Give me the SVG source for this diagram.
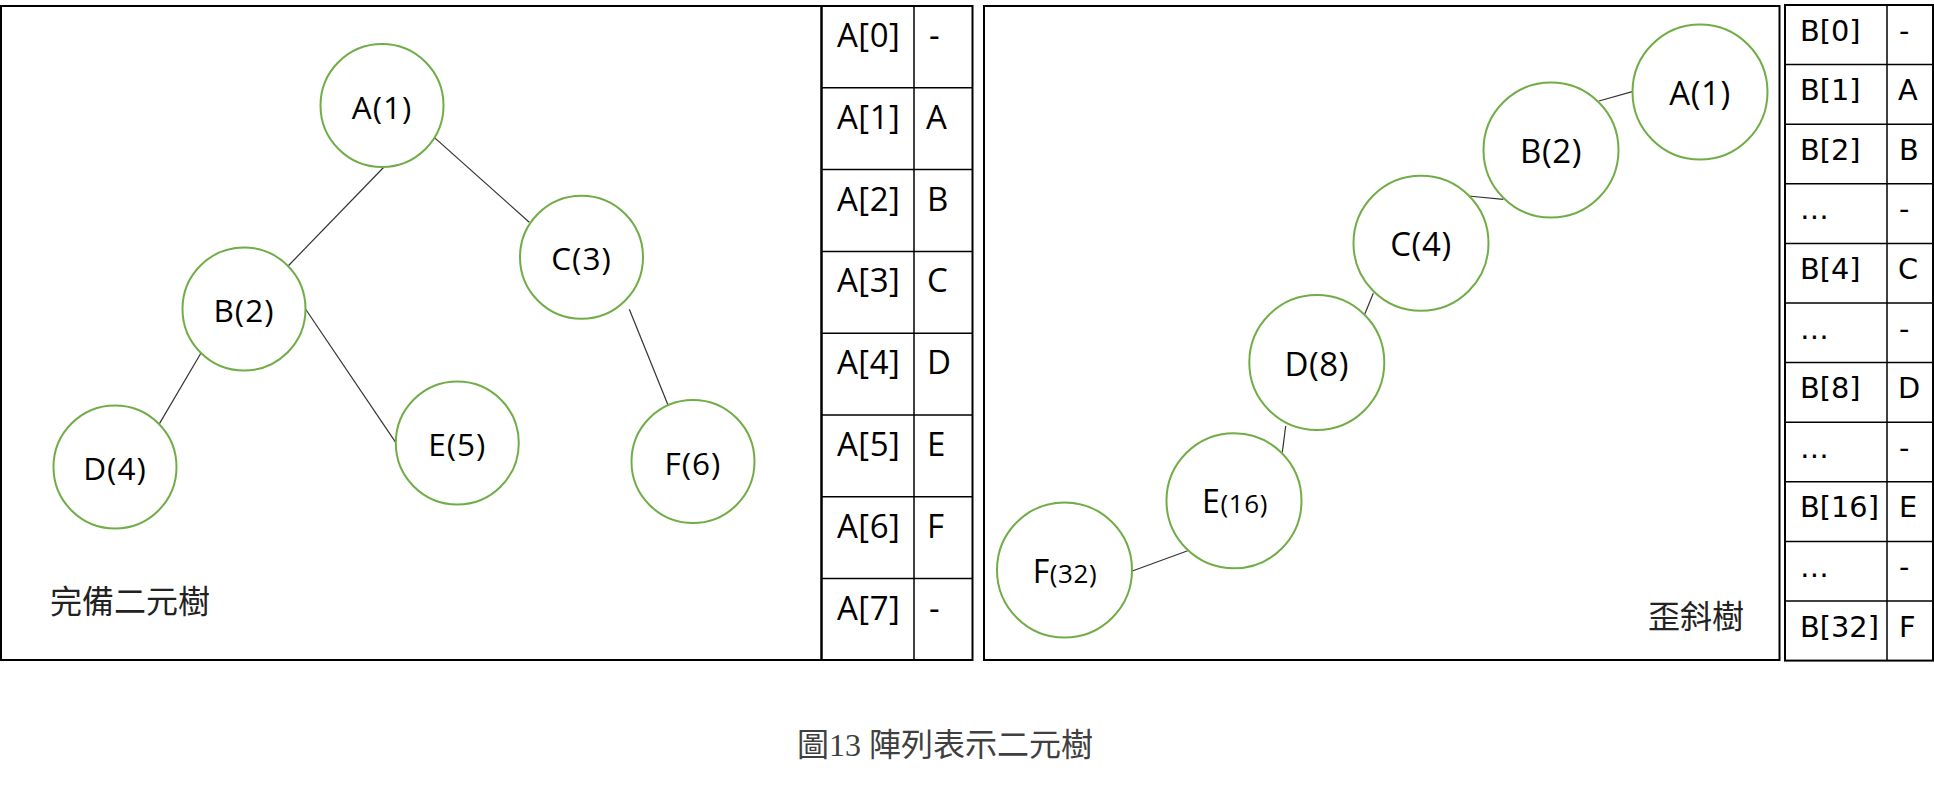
<svg xmlns="http://www.w3.org/2000/svg" width="1934" height="785" viewBox="0 0 1934 785">
<style>
.bg{fill:#fff}
.frame{fill:none;stroke:#000;stroke-width:2}
.grid{fill:none;stroke:#000;stroke-width:1.5}
.node circle{fill:#fff;stroke:#70AD47;stroke-width:2}
.edge{stroke:#333;stroke-width:1.2;fill:none}
.lblL{font-family:"Open Sans","Liberation Sans",sans-serif;font-size:31.5px;letter-spacing:1px;text-anchor:middle;fill:#000}
.lblR{font-family:"Open Sans","Liberation Sans",sans-serif;font-size:33px;letter-spacing:0.6px;text-anchor:middle;fill:#000}
.ta{font-family:"Open Sans","Liberation Sans",sans-serif;font-size:33px;letter-spacing:0.5px;fill:#000}
.tb{font-family:"DejaVu Sans","Liberation Sans",sans-serif;font-size:28.8px;fill:#000}
.cjk{font-family:"Noto Sans CJK TC","Noto Sans CJK SC",sans-serif;font-size:32px;fill:#222}
.cap{font-family:"Liberation Serif","Noto Sans CJK TC",serif;font-size:32px;fill:#404040}
</style>
<rect class="bg" x="0" y="0" width="1934" height="785"/>

<!-- frames -->
<g id="frames">
<rect class="frame" x="1" y="6" width="820.5" height="654"/>
<rect class="frame" x="984" y="6" width="795.5" height="654"/>
</g>

<!-- connectors -->
<g id="connectors">
<line class="edge" x1="383.5" y1="167.5" x2="287.6" y2="266.5"/>
<line class="edge" x1="434.5" y1="137.6" x2="529.3" y2="222.3"/>
<line class="edge" x1="201" y1="353" x2="159" y2="424.4"/>
<line class="edge" x1="305.5" y1="309" x2="397" y2="444.4"/>
<line class="edge" x1="629.3" y1="309.3" x2="668.7" y2="406.7"/>
<line class="edge" x1="1632.3" y1="91.7" x2="1599" y2="101"/>
<line class="edge" x1="1468.3" y1="196" x2="1503.3" y2="199.3"/>
<line class="edge" x1="1373.3" y1="293.3" x2="1364.7" y2="314.3"/>
<line class="edge" x1="1285.7" y1="426" x2="1282.3" y2="452.3"/>
<line class="edge" x1="1187.7" y1="550.7" x2="1132.3" y2="571"/>
</g>

<!-- complete binary tree -->
<g id="nodeL-A" class="node"><circle cx="382" cy="105.5" r="61.5"/><text class="lblL" x="382" y="118.6">A(1)</text></g>
<g id="nodeL-B" class="node"><circle cx="244" cy="309" r="61.5"/><text class="lblL" x="244" y="322.1">B(2)</text></g>
<g id="nodeL-C" class="node"><circle cx="581.5" cy="257.3" r="61.5"/><text class="lblL" x="581.5" y="270.4">C(3)</text></g>
<g id="nodeL-D" class="node"><circle cx="115" cy="467" r="61.5"/><text class="lblL" x="115" y="480.1">D(4)</text></g>
<g id="nodeL-E" class="node"><circle cx="457.3" cy="443" r="61.5"/><text class="lblL" x="457.3" y="456.1">E(5)</text></g>
<g id="nodeL-F" class="node"><circle cx="693" cy="461.5" r="61.5"/><text class="lblL" x="693" y="474.6">F(6)</text></g>
<text id="titleL" class="cjk" x="50" y="613">完備二元樹</text>

<!-- skewed tree -->
<g id="nodeR-A" class="node"><circle cx="1700" cy="92" r="67.5"/><text class="lblR" x="1700" y="105">A(1)</text></g>
<g id="nodeR-B" class="node"><circle cx="1551" cy="150" r="67.5"/><text class="lblR" x="1551" y="163">B(2)</text></g>
<g id="nodeR-C" class="node"><circle cx="1421" cy="243.3" r="67.5"/><text class="lblR" x="1421" y="256.3">C(4)</text></g>
<g id="nodeR-D" class="node"><circle cx="1316.8" cy="362.5" r="67.5"/><text class="lblR" x="1316.8" y="375.5">D(8)</text></g>
<g id="nodeR-E" class="node"><circle cx="1234" cy="500.8" r="67.5"/><text class="lblR" x="1235" y="513"><tspan font-size="32px">E</tspan><tspan font-size="26px">(16)</tspan></text></g>
<g id="nodeR-F" class="node"><circle cx="1064.5" cy="570" r="67.5"/><text class="lblR" x="1065" y="582.7"><tspan font-size="32px">F</tspan><tspan font-size="26px">(32)</tspan></text></g>
<text id="titleR" class="cjk" x="1648" y="628">歪斜樹</text>

<!-- array A -->
<g id="tableA">
<rect class="frame" x="821.5" y="6" width="151" height="654"/>
<line class="grid" x1="914" y1="6" x2="914" y2="660"/>
<line class="grid" x1="821.5" y1="87.8" x2="972.5" y2="87.8"/>
<line class="grid" x1="821.5" y1="169.6" x2="972.5" y2="169.6"/>
<line class="grid" x1="821.5" y1="251.4" x2="972.5" y2="251.4"/>
<line class="grid" x1="821.5" y1="333.2" x2="972.5" y2="333.2"/>
<line class="grid" x1="821.5" y1="415" x2="972.5" y2="415"/>
<line class="grid" x1="821.5" y1="496.8" x2="972.5" y2="496.8"/>
<line class="grid" x1="821.5" y1="578.6" x2="972.5" y2="578.6"/>
<text class="ta" x="837" y="47">A[0]</text><text class="ta" x="929" y="47">-</text>
<text class="ta" x="837" y="128.8">A[1]</text><text class="ta" x="926" y="128.8">A</text>
<text class="ta" x="837" y="210.6">A[2]</text><text class="ta" x="927" y="210.6">B</text>
<text class="ta" x="837" y="292.4">A[3]</text><text class="ta" x="927" y="292.4">C</text>
<text class="ta" x="837" y="374.2">A[4]</text><text class="ta" x="927" y="374.2">D</text>
<text class="ta" x="837" y="456">A[5]</text><text class="ta" x="927" y="456">E</text>
<text class="ta" x="837" y="537.8">A[6]</text><text class="ta" x="927" y="537.8">F</text>
<text class="ta" x="837" y="619.6">A[7]</text><text class="ta" x="929" y="619.6">-</text>
</g>

<!-- array B -->
<g id="tableB">
<rect class="frame" x="1785" y="5" width="148" height="655.6"/>
<line class="grid" x1="1887" y1="5" x2="1887" y2="660.6"/>
<line class="grid" x1="1785" y1="64.6" x2="1933" y2="64.6"/>
<line class="grid" x1="1785" y1="124.2" x2="1933" y2="124.2"/>
<line class="grid" x1="1785" y1="183.8" x2="1933" y2="183.8"/>
<line class="grid" x1="1785" y1="243.4" x2="1933" y2="243.4"/>
<line class="grid" x1="1785" y1="303" x2="1933" y2="303"/>
<line class="grid" x1="1785" y1="362.6" x2="1933" y2="362.6"/>
<line class="grid" x1="1785" y1="422.2" x2="1933" y2="422.2"/>
<line class="grid" x1="1785" y1="481.8" x2="1933" y2="481.8"/>
<line class="grid" x1="1785" y1="541.4" x2="1933" y2="541.4"/>
<line class="grid" x1="1785" y1="601" x2="1933" y2="601"/>
<text class="tb" x="1800" y="40.5">B[0]</text><text class="tb" x="1899" y="40.5">-</text>
<text class="tb" x="1800" y="100.1">B[1]</text><text class="tb" x="1898" y="100.1">A</text>
<text class="tb" x="1800" y="159.7">B[2]</text><text class="tb" x="1899" y="159.7">B</text>
<text class="tb" x="1800" y="219.3">…</text><text class="tb" x="1899" y="219.3">-</text>
<text class="tb" x="1800" y="278.9">B[4]</text><text class="tb" x="1898" y="278.9">C</text>
<text class="tb" x="1800" y="338.5">…</text><text class="tb" x="1899" y="338.5">-</text>
<text class="tb" x="1800" y="398.1">B[8]</text><text class="tb" x="1898" y="398.1">D</text>
<text class="tb" x="1800" y="457.7">…</text><text class="tb" x="1899" y="457.7">-</text>
<text class="tb" x="1800" y="517.3">B[16]</text><text class="tb" x="1899" y="517.3">E</text>
<text class="tb" x="1800" y="576.9">…</text><text class="tb" x="1899" y="576.9">-</text>
<text class="tb" x="1800" y="636.5">B[32]</text><text class="tb" x="1899" y="636.5">F</text>
</g>

<text id="caption" class="cap" x="797" y="756">圖13 陣列表示二元樹</text>
</svg>
